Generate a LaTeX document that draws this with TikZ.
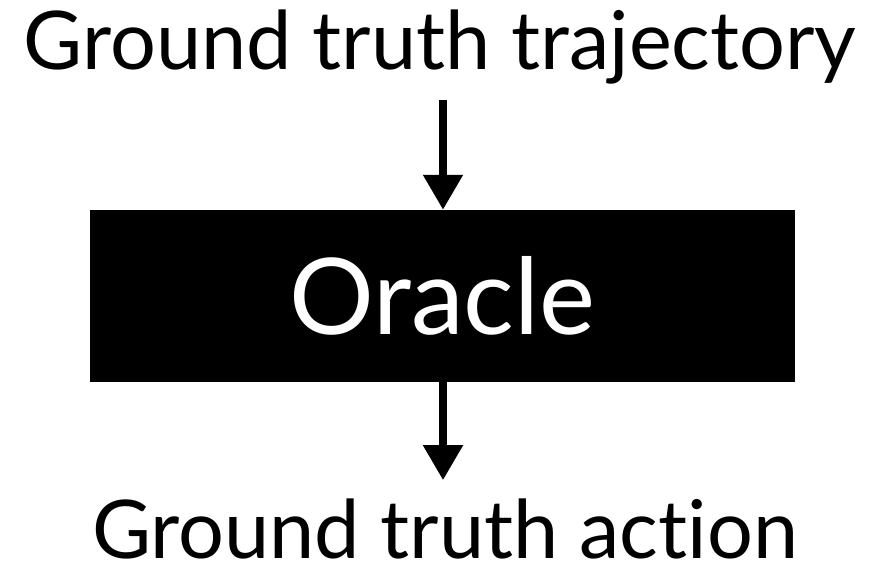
\documentclass[tikz,border=0pt]{standalone}
\usepackage{fontspec}
\setmainfont[Ligatures=NoCommon]{Lato}
\usetikzlibrary{arrows.meta}
\begin{document}
\begin{tikzpicture}[x=1pt,y=-1pt,
  lbl/.style={font=\fontsize{81}{90}\selectfont, inner sep=0pt, anchor=base},
  arr/.style={line width=8pt, -{Triangle[width=38pt,length=35pt]}}]
\useasboundingbox (0,0) rectangle (877,572);
\node[lbl] (top) at (440,70) {Ground truth trajectory};
\node[fill=black, minimum width=705pt, minimum height=172pt, inner sep=0pt,
      text=white, font=\fontsize{106}{116}\selectfont] (box) at (442.5,296) {Oracle};
\node[lbl] (bot) at (445,558) {Ground truth action};
\draw[arr] (443,100) coordinate (a1) -- (a1 |- box.north);
\draw[arr] (box.south -| a1) -- ++(0,98) coordinate (a2);
\end{tikzpicture}
\end{document}
